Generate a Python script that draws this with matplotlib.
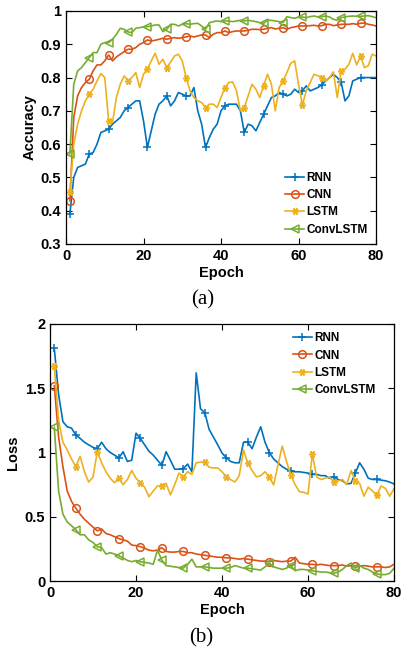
import numpy as np
import matplotlib
matplotlib.use("Agg")
import matplotlib.pyplot as plt

plt.rcParams["font.family"] = ["Liberation Sans", "DejaVu Sans"]
plt.rcParams["font.weight"] = "bold"

epochs = np.arange(1, 81)
names = ["RNN", "CNN", "LSTM", "ConvLSTM"]
colors = ["#0072BD", "#D95319", "#EDB120", "#77AC30"]
markers = ["+", "o", (6, 2, 90), "<"]
msizes = [6, 5.5, 5, 5.5]

acc_rnn = [0.39, 0.50, 0.53, 0.535, 0.54, 0.57, 0.575, 0.60, 0.635, 0.64,
           0.645, 0.66, 0.67, 0.68, 0.70, 0.71, 0.72, 0.73, 0.73, 0.67,
           0.59, 0.64, 0.69, 0.72, 0.73, 0.745, 0.715, 0.73, 0.755, 0.75,
           0.745, 0.745, 0.77, 0.70, 0.66, 0.59, 0.62, 0.645, 0.66, 0.70,
           0.715, 0.72, 0.72, 0.72, 0.70, 0.635, 0.66, 0.655, 0.64, 0.665,
           0.69, 0.715, 0.74, 0.745, 0.755, 0.75, 0.745, 0.75, 0.765, 0.755,
           0.76, 0.775, 0.76, 0.765, 0.77, 0.778, 0.79, 0.80, 0.81, 0.80,
           0.786, 0.73, 0.745, 0.79, 0.795, 0.80, 0.80, 0.80, 0.80, 0.80]
acc_cnn = [0.43, 0.68, 0.745, 0.77, 0.785, 0.795, 0.82, 0.838, 0.838, 0.85,
           0.868, 0.85, 0.862, 0.87, 0.878, 0.885, 0.885, 0.89, 0.90, 0.905,
           0.913, 0.91, 0.912, 0.915, 0.918, 0.915, 0.918, 0.92, 0.918, 0.92,
           0.922, 0.925, 0.922, 0.925, 0.928, 0.928, 0.92, 0.93, 0.935, 0.935,
           0.94, 0.935, 0.938, 0.94, 0.94, 0.94, 0.942, 0.945, 0.945, 0.944,
           0.945, 0.948, 0.95, 0.946, 0.948, 0.95, 0.945, 0.95, 0.952, 0.955,
           0.955, 0.955, 0.956, 0.957, 0.955, 0.956, 0.96, 0.96, 0.956, 0.958,
           0.96, 0.96, 0.96, 0.962, 0.96, 0.963, 0.964, 0.96, 0.958, 0.955]
acc_lstm = [0.457, 0.60, 0.66, 0.70, 0.73, 0.75, 0.765, 0.79, 0.812, 0.80,
            0.67, 0.665, 0.74, 0.78, 0.805, 0.79, 0.80, 0.815, 0.77, 0.81,
            0.825, 0.85, 0.873, 0.84, 0.855, 0.83, 0.847, 0.865, 0.87, 0.85,
            0.80, 0.76, 0.74, 0.73, 0.725, 0.71, 0.72, 0.72, 0.71, 0.74,
            0.77, 0.785, 0.787, 0.76, 0.70, 0.71, 0.745, 0.78, 0.765, 0.74,
            0.776, 0.81, 0.78, 0.70, 0.77, 0.79, 0.815, 0.843, 0.85, 0.78,
            0.718, 0.76, 0.785, 0.81, 0.805, 0.80, 0.79, 0.80, 0.817, 0.74,
            0.82, 0.825, 0.84, 0.873, 0.838, 0.865, 0.83, 0.835, 0.87, 0.865]
acc_conv = [0.571, 0.78, 0.82, 0.83, 0.845, 0.86, 0.875, 0.875, 0.90, 0.905,
            0.905, 0.915, 0.93, 0.948, 0.945, 0.937, 0.935, 0.948, 0.95, 0.952,
            0.953, 0.955, 0.958, 0.958, 0.938, 0.945, 0.96, 0.96, 0.955, 0.96,
            0.962, 0.96, 0.962, 0.963, 0.955, 0.945, 0.965, 0.968, 0.97, 0.968,
            0.97, 0.97, 0.968, 0.97, 0.972, 0.97, 0.972, 0.97, 0.968, 0.965,
            0.963, 0.972, 0.972, 0.97, 0.968, 0.965, 0.983, 0.98, 0.978, 0.982,
            0.982, 0.98, 0.983, 0.985, 0.982, 0.983, 0.985, 0.982, 0.975, 0.972,
            0.98, 0.982, 0.984, 0.985, 0.984, 0.984, 0.985, 0.986, 0.983, 0.98]

loss_rnn = [1.81, 1.45, 1.24, 1.20, 1.19, 1.136, 1.11, 1.08, 1.06, 1.04,
            1.03, 1.08, 1.03, 1.00, 0.98, 0.957, 1.006, 0.93, 0.94, 1.15,
            1.11, 1.06, 1.01, 0.98, 0.94, 0.90, 1.006, 0.94, 0.87, 0.87,
            0.875, 0.91, 0.85, 1.62, 1.34, 1.31, 1.18, 1.12, 1.06, 0.996,
            0.96, 0.93, 0.92, 0.92, 1.08, 1.08, 1.03, 1.12, 1.20, 1.08,
            1.0, 0.95, 0.92, 0.89, 0.87, 0.856, 0.85, 0.85, 0.845, 0.84,
            0.83, 0.83, 0.82, 0.82, 0.80, 0.81, 0.79, 0.78, 0.755, 0.76,
            0.84, 0.92, 0.87, 0.80, 0.79, 0.79, 0.785, 0.78, 0.77, 0.755]
loss_cnn = [1.52, 1.12, 0.89, 0.70, 0.62, 0.566, 0.52, 0.48, 0.45, 0.42,
            0.39, 0.405, 0.37, 0.36, 0.345, 0.33, 0.32, 0.31, 0.28, 0.275,
            0.267, 0.255, 0.24, 0.235, 0.24, 0.26, 0.23, 0.225, 0.225, 0.23,
            0.23, 0.22, 0.22, 0.21, 0.205, 0.20, 0.195, 0.19, 0.185, 0.185,
            0.18, 0.18, 0.175, 0.17, 0.175, 0.17, 0.165, 0.16, 0.155, 0.155,
            0.15, 0.16, 0.155, 0.15, 0.155, 0.155, 0.185, 0.14, 0.135, 0.13,
            0.13, 0.125, 0.13, 0.125, 0.12, 0.12, 0.12, 0.125, 0.115, 0.12,
            0.12, 0.115, 0.12, 0.115, 0.11, 0.11, 0.11, 0.105, 0.11, 0.13]
loss_lstm = [1.67, 1.25, 1.08, 1.02, 0.95, 0.89, 0.97, 0.85, 0.77, 0.81,
             1.006, 0.92, 0.85, 0.80, 0.765, 0.80, 0.75, 0.79, 0.86, 0.80,
             0.765, 0.73, 0.656, 0.70, 0.74, 0.74, 0.76, 0.67, 0.75, 0.84,
             0.81, 0.85, 0.83, 0.92, 0.925, 0.93, 0.885, 0.88, 0.88, 0.85,
             0.81, 0.79, 0.77, 0.82, 1.02, 0.915, 0.86, 0.81, 0.82, 0.85,
             0.81, 0.747, 0.90, 1.05, 0.93, 0.825, 0.75, 0.695, 0.69, 0.677,
             0.99, 0.81, 0.79, 0.80, 0.81, 0.77, 0.78, 0.79, 0.75, 0.86,
             0.78, 0.76, 0.66, 0.73, 0.70, 0.67, 0.74, 0.72, 0.66, 0.72]
loss_conv = [1.196, 0.70, 0.52, 0.46, 0.43, 0.40, 0.36, 0.36, 0.32, 0.30,
             0.267, 0.26, 0.21, 0.22, 0.21, 0.197, 0.18, 0.16, 0.15, 0.16,
             0.15, 0.145, 0.14, 0.13, 0.24, 0.163, 0.12, 0.115, 0.11, 0.105,
             0.10, 0.13, 0.17, 0.11, 0.11, 0.11, 0.105, 0.10, 0.10, 0.10,
             0.10, 0.105, 0.12, 0.11, 0.10, 0.10, 0.095, 0.09, 0.085, 0.11,
             0.14, 0.11, 0.10, 0.09, 0.10, 0.12, 0.08, 0.09, 0.09, 0.085,
             0.08, 0.075, 0.07, 0.07, 0.065, 0.06, 0.07, 0.09, 0.12, 0.14,
             0.10, 0.12, 0.10, 0.09, 0.07, 0.055, 0.05, 0.05, 0.06, 0.10]

acc = [acc_rnn, acc_cnn, acc_lstm, acc_conv]
loss = [loss_rnn, loss_cnn, loss_lstm, loss_conv]

fig = plt.figure(figsize=(4.01, 6.58), dpi=100)
ax1 = fig.add_axes([0.1646, 0.6292, 0.7731, 0.3541])
ax2 = fig.add_axes([0.1247, 0.1170, 0.8579, 0.3906])


def draw(ax, data):
    for y, name, c, m, ms in zip(data, names, colors, markers, msizes):
        mfc = "none" if m in ("o", "<") else c
        ax.plot(epochs, y, color=c, lw=1.2, marker=m, markevery=5, markersize=ms,
                mfc=mfc, mec=c, mew=1.1, label=name)
    ax.set_xlim(0, 80)
    ax.set_xticks([0, 20, 40, 60, 80])
    ax.tick_params(direction="in", top=True, right=True, labelsize=10.5, length=4, width=0.8)
    for lab in ax.get_xticklabels() + ax.get_yticklabels():
        lab.set_fontweight("bold")
    for s in ax.spines.values():
        s.set_linewidth(0.9)
    ax.set_xlabel("Epoch", fontsize=10.5, fontweight="bold", labelpad=2)


draw(ax1, acc)
ax1.set_ylim(0.3, 1)
ax1.set_yticks(np.arange(0.3, 1.01, 0.1))
ax1.set_yticklabels(["0.3", "0.4", "0.5", "0.6", "0.7", "0.8", "0.9", "1"], fontweight="bold")
ax1.set_ylabel("Accuracy", fontsize=10.5, fontweight="bold", labelpad=3)
ax1.legend(loc="lower right", bbox_to_anchor=(1.0, 0.0), frameon=False,
           handlelength=1.6, handletextpad=0.2, labelspacing=0.45, borderaxespad=0.3,
           prop={"weight": "bold", "size": 8.5})

draw(ax2, loss)
ax2.set_ylim(0, 2)
ax2.set_yticks([0, 0.5, 1, 1.5, 2])
ax2.set_yticklabels(["0", "0.5", "1", "1.5", "2"], fontweight="bold")
ax2.set_ylabel("Loss", fontsize=10.5, fontweight="bold", labelpad=3)
ax2.legend(loc="upper right", bbox_to_anchor=(0.97, 1.0), frameon=False,
           handlelength=1.6, handletextpad=0.2, labelspacing=0.45, borderaxespad=0.3,
           prop={"weight": "bold", "size": 8.5})

fig.text(0.506, 0.545, "(a)", ha="center", va="center", fontsize=15,
         family="Liberation Serif", fontweight="normal")
fig.text(0.501, 0.030, "(b)", ha="center", va="center", fontsize=15,
         family="Liberation Serif", fontweight="normal")

fig.savefig("out.png", dpi=100)
